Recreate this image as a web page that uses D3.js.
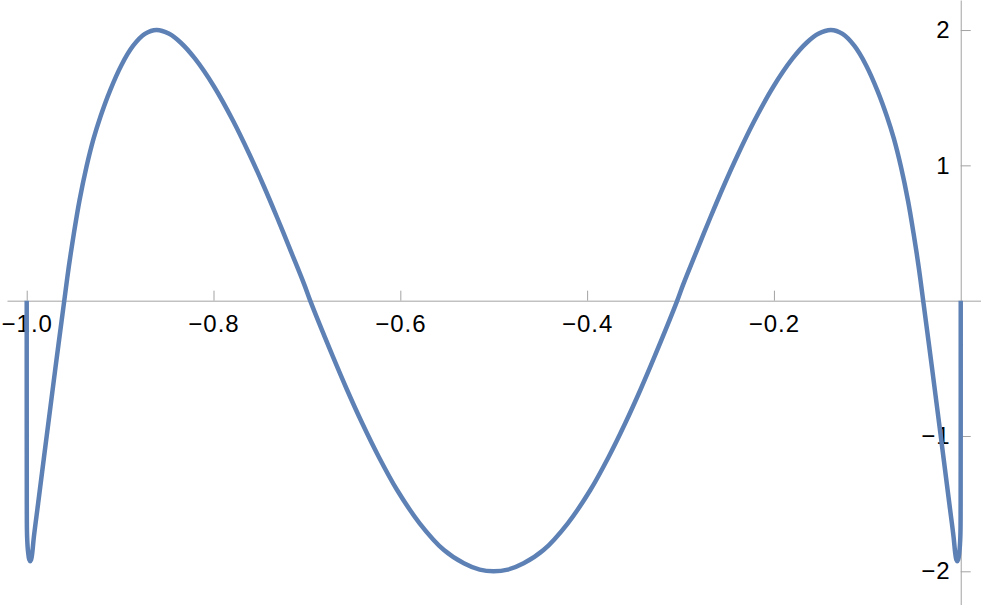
<!DOCTYPE html>
<html>
<head>
<meta charset="utf-8">
<script src="https://cdn.jsdelivr.net/npm/d3@7/dist/d3.min.js"></script>
<style>
  html, body { margin: 0; padding: 0; background: #ffffff; }
  svg { display: block; }
</style>
</head>
<body>
<svg id="chart" width="981" height="605"></svg>
<script>
// ---- data ----
const curveX = [
  -1.00000, -0.99998, -0.99990, -0.99960, -0.99850, -0.99730, -0.99620, -0.99530, -0.99400, -0.99240,
  -0.98780, -0.97860, -0.96930, -0.95980, -0.95500, -0.94950, -0.94350, -0.93600, -0.92850, -0.92100,
  -0.91100, -0.89850, -0.88600, -0.87350, -0.86100, -0.84750, -0.83500, -0.82000, -0.79950, -0.77880,
  -0.76170, -0.74670, -0.73170, -0.71670, -0.70300, -0.69650, -0.67215, -0.65696, -0.64078, -0.62314,
  -0.60346, -0.57934, -0.55329, -0.53199, -0.51500, -0.50000,
  -0.48500, -0.46801, -0.44671, -0.42066, -0.39654, -0.37686, -0.35922, -0.34304, -0.32785, -0.30350,
  -0.29700, -0.28330, -0.26830, -0.25330, -0.23830, -0.22120, -0.20050, -0.18000, -0.16500, -0.15250,
  -0.13900, -0.12650, -0.11400, -0.10150, -0.08900, -0.07900, -0.07150, -0.06400, -0.05650, -0.05050,
  -0.04500, -0.04020, -0.03070, -0.02140, -0.01220, -0.00760, -0.00600, -0.00470, -0.00380, -0.00270,
  -0.00150, -0.00040, -0.00010, -0.00002, 0.00000
];
const curveY = [
   0.000, -0.900, -1.500, -1.740, -1.860, -1.912, -1.925, -1.915, -1.860, -1.750,
  -1.500, -1.000, -0.500,  0.000,  0.248,  0.497,  0.740,  0.989,  1.195,  1.361,
   1.549,  1.742,  1.884,  1.971,  2.000,  1.972,  1.906,  1.790,  1.583,  1.326,
   1.084,  0.855,  0.611,  0.357,  0.122,  0.000, -0.414, -0.660, -0.906, -1.153,
  -1.399, -1.645, -1.843, -1.941, -1.988, -2.000,
  -1.988, -1.941, -1.843, -1.645, -1.399, -1.153, -0.906, -0.660, -0.414,  0.000,
   0.122,  0.357,  0.611,  0.855,  1.084,  1.326,  1.583,  1.790,  1.906,  1.972,
   2.000,  1.971,  1.884,  1.742,  1.549,  1.361,  1.195,  0.989,  0.740,  0.497,
   0.248,  0.000, -0.500, -1.000, -1.500, -1.750, -1.860, -1.915, -1.925, -1.912,
  -1.860, -1.740, -1.500, -0.900,  0.000
];

const xMajorTicks = [-1.0, -0.8, -0.6, -0.4, -0.2];
const xTickLabels = ["\u22121.0", "\u22120.8", "\u22120.6", "\u22120.4", "\u22120.2"];
const xMinorTicks = [-0.95, -0.9, -0.85, -0.75, -0.7, -0.65, -0.55, -0.5, -0.45,
                     -0.35, -0.3, -0.25, -0.15, -0.1, -0.05];
const yMajorTicks = [-2, -1, 1, 2];
const yTickLabels = ["\u22122", "\u22121", "1", "2"];
const yMinorTicks = [-2.2, -1.8, -1.6, -1.4, -1.2, -0.8, -0.6, -0.4, -0.2,
                     0.2, 0.4, 0.6, 0.8, 1.2, 1.4, 1.6, 1.8, 2.2];

// ---- layout ----
const axisColor = "#a3a3a3";
const lineColor = "#5e81b5";
const fontFamily = "Liberation Sans, Arial, sans-serif";
const fontSize = 24;

const x = d3.scaleLinear().domain([-1.0211, 0.0217]).range([7, 981]);
const y = d3.scaleLinear().domain([-2.249, 2.222]).range([605, 0]);

const svg = d3.select("#chart");

// x axis (at y = 0)
const gx = svg.append("g").attr("transform", `translate(0,${y(0)})`);
gx.call(d3.axisBottom(x).tickValues(xMinorTicks).tickSizeInner(-6).tickSizeOuter(0).tickFormat(""));
gx.call(d3.axisBottom(x).tickValues(xMajorTicks).tickSizeInner(-10).tickSizeOuter(0)
  .tickPadding(14).tickFormat((d, i) => xTickLabels[i]));

// y axis (at x = 0)
const gy = svg.append("g").attr("transform", `translate(${x(0)},0)`);
gy.call(d3.axisLeft(y).tickValues(yMinorTicks).tickSizeInner(-6).tickSizeOuter(0).tickFormat(""));
gy.call(d3.axisLeft(y).tickValues(yMajorTicks).tickSizeInner(-10).tickSizeOuter(0)
  .tickPadding(10).tickFormat((d, i) => yTickLabels[i]));

svg.selectAll(".domain").attr("stroke", axisColor).attr("stroke-width", 1);
svg.selectAll(".tick line").attr("stroke", axisColor).attr("stroke-width", 1);
svg.selectAll(".tick text")
  .attr("font-family", fontFamily)
  .attr("font-size", fontSize)
  .attr("letter-spacing", 1)
  .attr("fill", "#000");

// curve
const pts = curveX.map((d, i) => [d, curveY[i]]);
const line = d3.line().x(d => x(d[0])).y(d => y(d[1])).curve(d3.curveCatmullRom.alpha(0.5));
svg.append("path")
  .datum(pts)
  .attr("d", line)
  .attr("fill", "none")
  .attr("stroke", lineColor)
  .attr("stroke-width", 4.5)
  .attr("stroke-linejoin", "round")
  .attr("stroke-linecap", "butt");
</script>
</body>
</html>
